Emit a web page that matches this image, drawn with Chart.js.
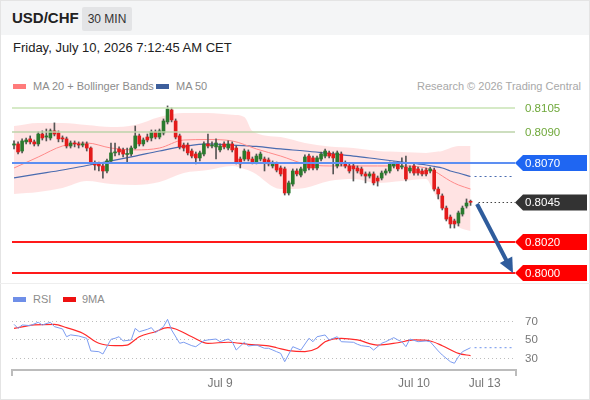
<!DOCTYPE html>
<html>
<head>
<meta charset="utf-8">
<title>USD/CHF 30 MIN</title>
<script src="https://cdn.jsdelivr.net/npm/chart.js@4.4.1/dist/chart.umd.min.js"></script>
<style>
  html, body { margin: 0; padding: 0; background: #fff; }
  body { width: 590px; height: 400px; position: relative; overflow: hidden; font-family: "Liberation Sans", Arial, sans-serif; }
  .abs { position: absolute; white-space: nowrap; }
  #frame { left: 0; top: 0; width: 588px; height: 398px; border: 1px solid #e4e4e4; }
  #head { left: 0; top: 0; width: 590px; height: 35px; background: #f4f5f6; }
  #pair { left: 12px; top: 9px; font-size: 15px; font-weight: bold; color: #222; }
  #tf { left: 82px; top: 7px; width: 50px; height: 24px; line-height: 24px; text-align: center; font-size: 12px; color: #333; background: #e3e4e6; border-radius: 2px; }
  #date { left: 13px; top: 40px; font-size: 13px; color: #222; }
  .sw { height: 5px; width: 13px; }
  .lg { font-size: 11px; color: #8c8c8c; }
  #sep { left: 0; top: 283px; width: 590px; height: 1px; background: #eeeeee; }
  canvas { position: absolute; left: 0; }
</style>
</head>
<body>
<div class="abs" id="head"></div>
<div class="abs" id="frame"></div>
<div class="abs" id="pair">USD/CHF</div>
<div class="abs" id="tf">30 MIN</div>
<div class="abs" id="date">Friday, July 10, 2026 7:12:45 AM CET</div>

<div class="abs sw" style="left:13px;top:84px;background:#ff7b7b"></div>
<div class="abs lg" style="left:33px;top:80px">MA 20 + Bollinger Bands</div>
<div class="abs sw" style="left:156px;top:84px;background:#3d5f9c"></div>
<div class="abs lg" style="left:176px;top:80px">MA 50</div>
<div class="abs lg" style="right:9px;top:80px;color:#a8a8a8">Research © 2026 Trading Central</div>

<div class="abs" id="sep"></div>
<div class="abs sw" style="left:13px;top:297px;background:#6f8fe8"></div>
<div class="abs lg" style="left:33px;top:293px">RSI</div>
<div class="abs sw" style="left:63px;top:297px;background:#ee1111"></div>
<div class="abs lg" style="left:82px;top:293px">9MA</div>

<canvas id="price" width="590" height="190" style="top:96px"></canvas>
<canvas id="rsi" width="590" height="115" style="top:285px"></canvas>

<script>
// 30 min candles, Jul 7 late evening -> Jul 10 07:00 CET (index 0..113)
const opens = [
  0.80814,0.80821,0.80776,0.80834,0.80853,0.80834,0.80821,0.80884,0.80865,0.80859,
  0.80904,0.80891,0.80859,0.80853,0.80808,0.80827,0.80821,0.80814,0.80821,0.80795,
  0.80700,0.80694,0.80681,0.80649,0.80713,0.80764,0.80789,0.80783,0.80754,0.80757,
  0.80795,0.80872,0.80821,0.80865,0.80859,0.80897,0.80865,0.80891,0.80961,0.81037,
  0.80967,0.80872,0.80814,0.80814,0.80776,0.80757,0.80732,0.80757,0.80821,0.80808,
  0.80802,0.80783,0.80821,0.80795,0.80821,0.80795,0.80725,0.80725,0.80770,0.80725,
  0.80706,0.80725,0.80725,0.80719,0.80681,0.80694,0.80668,0.80662,0.80509,0.80566,
  0.80649,0.80623,0.80649,0.80744,0.80732,0.80668,0.80725,0.80744,0.80764,0.80757,
  0.80681,0.80757,0.80700,0.80681,0.80681,0.80668,0.80662,0.80630,0.80617,0.80630,
  0.80604,0.80604,0.80636,0.80649,0.80681,0.80694,0.80674,0.80674,0.80649,0.80681,
  0.80662,0.80649,0.80655,0.80649,0.80655,0.80534,0.80490,0.80413,0.80356,0.80331,
  0.80318,0.80375,0.80426,0.80456
];
const highs = [
  0.80840,0.80834,0.80853,0.80859,0.80872,0.80846,0.80897,0.80904,0.80916,0.80916,
  0.80955,0.80904,0.80872,0.80865,0.80840,0.80840,0.80834,0.80834,0.80834,0.80802,
  0.80713,0.80706,0.80694,0.80725,0.80827,0.80827,0.80802,0.80795,0.80795,0.80808,
  0.80935,0.80884,0.80859,0.80884,0.80910,0.80910,0.80916,0.80980,0.81063,0.81050,
  0.80980,0.80884,0.80827,0.80827,0.80789,0.80770,0.80776,0.80834,0.80884,0.80834,
  0.80853,0.80821,0.80834,0.80840,0.80834,0.80808,0.80738,0.80789,0.80783,0.80738,
  0.80757,0.80770,0.80738,0.80732,0.80713,0.80706,0.80681,0.80674,0.80585,0.80662,
  0.80662,0.80674,0.80751,0.80757,0.80744,0.80744,0.80770,0.80789,0.80776,0.80770,
  0.80776,0.80770,0.80713,0.80694,0.80694,0.80681,0.80674,0.80643,0.80643,0.80643,
  0.80617,0.80649,0.80662,0.80706,0.80706,0.80706,0.80732,0.80744,0.80681,0.80694,
  0.80674,0.80662,0.80668,0.80674,0.80668,0.80547,0.80503,0.80426,0.80369,0.80343,
  0.80394,0.80426,0.80471,0.80464
];
const lows = [
  0.80789,0.80757,0.80764,0.80821,0.80821,0.80808,0.80808,0.80846,0.80840,0.80846,
  0.80872,0.80834,0.80834,0.80795,0.80795,0.80802,0.80795,0.80802,0.80776,0.80694,
  0.80655,0.80649,0.80604,0.80636,0.80706,0.80744,0.80751,0.80738,0.80700,0.80744,
  0.80789,0.80808,0.80808,0.80834,0.80840,0.80853,0.80853,0.80878,0.80948,0.80961,
  0.80853,0.80789,0.80776,0.80751,0.80732,0.80694,0.80713,0.80744,0.80795,0.80795,
  0.80725,0.80770,0.80789,0.80783,0.80770,0.80694,0.80668,0.80713,0.80713,0.80694,
  0.80694,0.80713,0.80649,0.80681,0.80668,0.80643,0.80617,0.80496,0.80496,0.80553,
  0.80617,0.80611,0.80636,0.80655,0.80655,0.80655,0.80713,0.80732,0.80732,0.80630,
  0.80668,0.80681,0.80668,0.80636,0.80585,0.80636,0.80617,0.80573,0.80604,0.80560,
  0.80553,0.80592,0.80623,0.80636,0.80668,0.80649,0.80662,0.80585,0.80636,0.80623,
  0.80623,0.80617,0.80617,0.80636,0.80522,0.80471,0.80401,0.80331,0.80286,0.80286,
  0.80299,0.80362,0.80413,0.80430
];
const closes = [
  0.80821,0.80770,0.80840,0.80846,0.80834,0.80821,0.80884,0.80859,0.80872,0.80904,
  0.80884,0.80853,0.80853,0.80808,0.80827,0.80821,0.80814,0.80821,0.80795,0.80700,
  0.80687,0.80681,0.80649,0.80713,0.80764,0.80770,0.80770,0.80757,0.80760,0.80795,
  0.80872,0.80821,0.80846,0.80846,0.80897,0.80865,0.80904,0.80967,0.81044,0.80974,
  0.80865,0.80802,0.80795,0.80764,0.80744,0.80732,0.80764,0.80821,0.80808,0.80814,
  0.80827,0.80808,0.80802,0.80821,0.80783,0.80706,0.80694,0.80776,0.80725,0.80706,
  0.80744,0.80757,0.80700,0.80694,0.80700,0.80655,0.80630,0.80509,0.80573,0.80649,
  0.80630,0.80662,0.80738,0.80668,0.80668,0.80732,0.80757,0.80776,0.80744,0.80732,
  0.80764,0.80694,0.80681,0.80649,0.80662,0.80649,0.80630,0.80617,0.80630,0.80573,
  0.80585,0.80636,0.80649,0.80694,0.80694,0.80662,0.80681,0.80598,0.80668,0.80636,
  0.80636,0.80630,0.80630,0.80662,0.80534,0.80503,0.80413,0.80343,0.80312,0.80312,
  0.80382,0.80413,0.80445,0.80450
];

// Bollinger bands (read at these candle indexes)
const bandK = [0,6,12,18,24,30,36,42,48,54,57,59,66,72,78,84,90,96,102,104,106,108,110,113];
const bandUpper = [0.80935,0.80955,0.80955,0.80942,0.80929,0.80942,0.80993,0.81018,0.81018,0.81006,0.80993,0.80904,
                   0.80865,0.80827,0.80805,0.80795,0.80776,0.80770,0.80764,0.80770,0.80776,0.80795,0.80808,0.80808];
const bandLower = [0.80503,0.80515,0.80541,0.80585,0.80566,0.80560,0.80579,0.80636,0.80655,0.80681,0.80662,0.80643,
                   0.80534,0.80541,0.80585,0.80598,0.80573,0.80585,0.80598,0.80509,0.80426,0.80343,0.80293,0.80267];

// moving averages
const maK = [0,6,12,18,24,30,36,42,48,54,60,66,72,78,84,90,96,102,104,106,108,110,113];
const ma20 = [0.80668,0.80738,0.80808,0.80827,0.80795,0.80783,0.80795,0.80846,0.80849,0.80840,0.80789,0.80744,
              0.80694,0.80681,0.80681,0.80681,0.80681,0.80668,0.80649,0.80617,0.80585,0.80560,0.80534];
const ma50 = [0.80605,0.80630,0.80655,0.80684,0.80713,0.80744,0.80776,0.80805,0.80821,0.80814,0.80805,0.80789,
              0.80776,0.80760,0.80744,0.80725,0.80706,0.80687,0.80678,0.80668,0.80649,0.80636,0.80614];

// RSI panel
const rsiK = [0,1,2,4,6,7,9,10,12,13,14,16,18,19,21,22,24,25,26,27,29,30,31,33,34,35,37,38,39,41,
              42,44,45,47,48,50,51,53,54,55,57,58,60,62,63,65,66,67,69,71,73,74,75,77,78,80,81,84,85,86,
              88,89,91,92,94,95,96,97,98,100,102,103,105,106,108,109,110,111,113];
const rsiVals = [66.4,62,65.7,65,68.6,65.7,68.6,63.9,61.4,53,55,53.8,51.3,37.6,36.8,34.3,50.2,51.3,53,48.4,
                 49.5,62,58.4,61,62.8,57.4,63.9,71.8,60.3,45.9,47,43.3,42.2,48.7,49.5,50.5,47.6,50.5,47.6,38.6,
                 47,43,44,40.5,40.5,36.8,35,26,42.2,38.6,51.3,47.6,53,54.9,49.5,53,47.6,47,44.8,43.3,
                 42.2,38.6,45.9,47.6,52,49.5,47.6,42.2,50.5,47.6,48.4,47.6,37.6,33.2,26,24.3,31.4,36.8,41.1];
const rsiMaK = [0,5,10,13,17,21,25,28,31,35,38,40,44,48,53,58,63,65,68,72,75,77,81,85,90,95,99,103,106,110,113];
const rsiMaVals = [62,65.7,66.4,62.8,56.7,45.9,43.3,44,53,58.4,62.8,61.4,53,45.9,47,44.8,43,41.1,38,36.8,
                   40.5,47.6,51.3,49.5,44,46.5,49.5,48.4,43.3,35,32.5];
const rsiLevels = [70, 50, 30];

// levels, target arrow, time axis
const levels = [0.8105, 0.8090, 0.8070, 0.8045, 0.8020, 0.8000];
const levelLabels = ['0.8105', '0.8090', '0.8070', '0.8045', '0.8020', '0.8000'];
const arrowFrom = [114.6, 0.80439];
const arrowTo = [123.5, 0.8000];
const tickPos = [51, 99, 116.5];
const tickLabels = ['Jul 9', 'Jul 10', 'Jul 13'];

const levelStyle = [
  { line: '#c9e3b5', width: 1.5, text: '#6fa83a' },
  { line: '#bcd3aa', width: 1.5, text: '#6fa83a' },
  { line: '#5d8ff2', width: 2, tag: '#1f66f2' },
  { line: '#444', width: 1, tag: '#333333', dotted: true },
  { line: '#ff1a1a', width: 2, tag: '#ff0000' },
  { line: '#ff1a1a', width: 2, tag: '#ff0000' }
];
const FONT = '"Liberation Sans", Arial, sans-serif';
const last = closes.length - 1;

function drawTag(ctx, px, py, color, text, right) {
  ctx.fillStyle = color;
  ctx.beginPath();
  ctx.moveTo(px, py);
  ctx.lineTo(px + 8, py - 8);
  ctx.lineTo(right, py - 8);
  ctx.lineTo(right, py + 8);
  ctx.lineTo(px + 8, py + 8);
  ctx.closePath();
  ctx.fill();
  ctx.fillStyle = '#fff';
  ctx.font = '11.5px ' + FONT;
  ctx.textBaseline = 'middle';
  ctx.textAlign = 'left';
  ctx.fillText(text, px + 10, py + 0.5);
}

const priceDecor = {
  id: 'priceDecor',
  afterDatasetsDraw(chart) {
    const { ctx, chartArea: a, scales: { x, y } } = chart;
    const lastX = x.getPixelForValue(last);
    ctx.save();

    // dotted continuation of MA 50
    ctx.strokeStyle = '#4a6cb0';
    ctx.lineWidth = 1.2;
    ctx.setLineDash([2, 3]);
    const m50 = y.getPixelForValue(ma50[ma50.length - 1]);
    ctx.beginPath(); ctx.moveTo(lastX + 4, m50); ctx.lineTo(a.right - 2, m50); ctx.stroke();

    levels.forEach((v, i) => {
      const st = levelStyle[i];
      const py = Math.round(y.getPixelForValue(v)) + (st.width === 1 ? 0.5 : 0);
      ctx.strokeStyle = st.line;
      ctx.lineWidth = st.width;
      ctx.beginPath();
      if (st.dotted) {
        ctx.setLineDash([1.5, 2.5]);
        ctx.moveTo(lastX + 8, py);
      } else {
        ctx.setLineDash([]);
        ctx.moveTo(a.left, py);
      }
      ctx.lineTo(a.right, py);
      ctx.stroke();
      ctx.setLineDash([]);
      if (st.tag) {
        drawTag(ctx, a.right, py, st.tag, levelLabels[i], chart.width - 3);
      } else {
        ctx.fillStyle = st.text;
        ctx.font = '11.5px ' + FONT;
        ctx.textBaseline = 'middle';
        ctx.fillText(levelLabels[i], a.right + 10, py + 0.5);
      }
    });

    // target arrow
    const x0 = x.getPixelForValue(arrowFrom[0]), y0 = y.getPixelForValue(arrowFrom[1]);
    const x1 = x.getPixelForValue(arrowTo[0]), y1 = y.getPixelForValue(arrowTo[1]);
    const ang = Math.atan2(y1 - y0, x1 - x0);
    const head = 15, half = 7;
    ctx.strokeStyle = '#2f5c9c';
    ctx.fillStyle = '#2f5c9c';
    ctx.lineWidth = 4;
    ctx.beginPath();
    ctx.moveTo(x0, y0);
    ctx.lineTo(x1 - (head - 2) * Math.cos(ang), y1 - (head - 2) * Math.sin(ang));
    ctx.stroke();
    const bx = x1 - head * Math.cos(ang), by = y1 - head * Math.sin(ang);
    ctx.beginPath();
    ctx.moveTo(x1, y1);
    ctx.lineTo(bx + half * Math.sin(ang), by - half * Math.cos(ang));
    ctx.lineTo(bx - half * Math.sin(ang), by + half * Math.cos(ang));
    ctx.closePath();
    ctx.fill();
    ctx.restore();
  }
};

const xMin = -0.5, xMax = 124;
const pts = (ks, vs) => ks.map((k, i) => ({ x: k, y: vs[i] }));

new Chart(document.getElementById('price'), {
  type: 'bar',
  data: {
    datasets: [
      { type: 'line', data: pts(bandK, bandUpper), borderColor: 'rgba(0,0,0,0)', borderWidth: 0, pointRadius: 0,
        fill: '+1', backgroundColor: 'rgba(255,80,80,0.16)', cubicInterpolationMode: 'monotone', order: 6 },
      { type: 'line', data: pts(bandK, bandLower), borderColor: 'rgba(0,0,0,0)', borderWidth: 0, pointRadius: 0,
        fill: false, cubicInterpolationMode: 'monotone', order: 6 },
      { type: 'line', data: pts(maK, ma20), borderColor: '#ff8a8a', borderWidth: 1, pointRadius: 0,
        fill: false, cubicInterpolationMode: 'monotone', order: 5 },
      { type: 'line', data: pts(maK, ma50), borderColor: '#4a6cb0', borderWidth: 1.2, pointRadius: 0,
        fill: false, cubicInterpolationMode: 'monotone', order: 5 },
      { data: highs.map((h, i) => ({ x: i, y: [lows[i], h] })), backgroundColor: '#555', barThickness: 1,
        grouped: false, order: 4 },
      { data: opens.map((o, i) => ({ x: i, y: [o, closes[i]] })),
        backgroundColor: opens.map((o, i) => closes[i] >= o ? '#2a7a2e' : '#e31b1b'),
        barThickness: 3, minBarLength: 1, grouped: false, order: 3 }
    ]
  },
  options: {
    responsive: false,
    animation: false,
    events: [],
    layout: { padding: { left: 12, right: 75, top: 0, bottom: 5 } },
    scales: {
      x: { type: 'linear', min: xMin, max: xMax, display: false, offset: false },
      y: { type: 'linear', min: 0.79949, max: 0.81126, display: false }
    },
    plugins: { legend: { display: false }, tooltip: { enabled: false } }
  },
  plugins: [priceDecor]
});

const rsiDecor = {
  id: 'rsiDecor',
  beforeDatasetsDraw(chart) {
    const { ctx, chartArea: a, scales: { y } } = chart;
    ctx.save();
    ctx.strokeStyle = '#bdbdbd';
    ctx.lineWidth = 1;
    ctx.setLineDash([1, 3]);
    ctx.fillStyle = '#777';
    ctx.font = '11.5px ' + FONT;
    ctx.textBaseline = 'middle';
    rsiLevels.forEach(v => {
      const py = Math.round(y.getPixelForValue(v)) + 0.5;
      ctx.beginPath(); ctx.moveTo(a.left, py); ctx.lineTo(a.right, py); ctx.stroke();
      ctx.fillText(String(v), a.right + 10, py);
    });
    ctx.restore();
  },
  afterDatasetsDraw(chart) {
    const { ctx, chartArea: a, scales: { x, y } } = chart;
    ctx.save();
    // dotted continuation of RSI
    const ry = y.getPixelForValue(rsiVals[rsiVals.length - 1]);
    ctx.strokeStyle = '#8aa8f0';
    ctx.lineWidth = 1.2;
    ctx.setLineDash([2, 3]);
    ctx.beginPath(); ctx.moveTo(x.getPixelForValue(last) + 4, ry); ctx.lineTo(a.right - 2, ry); ctx.stroke();
    ctx.setLineDash([]);
    // time axis
    ctx.strokeStyle = '#bcbcbc';
    ctx.lineWidth = 2;
    ctx.beginPath();
    ctx.moveTo(a.left, a.bottom + 6); ctx.lineTo(a.left, a.bottom);
    ctx.lineTo(a.right + 1, a.bottom); ctx.lineTo(a.right + 1, a.bottom + 6);
    ctx.stroke();
    ctx.fillStyle = '#777';
    ctx.font = '12px ' + FONT;
    ctx.textAlign = 'center';
    ctx.textBaseline = 'middle';
    tickPos.forEach((k, i) => ctx.fillText(tickLabels[i], x.getPixelForValue(k), a.bottom + 14));
    ctx.restore();
  }
};

new Chart(document.getElementById('rsi'), {
  type: 'line',
  data: {
    datasets: [
      { data: pts(rsiK, rsiVals), borderColor: '#7c9cf0', borderWidth: 1, pointRadius: 0, tension: 0, fill: false },
      { data: pts(rsiMaK, rsiMaVals), borderColor: '#ff2a2a', borderWidth: 1.2, pointRadius: 0,
        cubicInterpolationMode: 'monotone', fill: false }
    ]
  },
  options: {
    responsive: false,
    animation: false,
    events: [],
    layout: { padding: { left: 12, right: 75, top: 20, bottom: 30 } },
    scales: {
      x: { type: 'linear', min: xMin, max: xMax, display: false },
      y: { min: 17, max: 87.3, display: false }
    },
    plugins: { legend: { display: false }, tooltip: { enabled: false } }
  },
  plugins: [rsiDecor]
});
</script>
</body>
</html>
